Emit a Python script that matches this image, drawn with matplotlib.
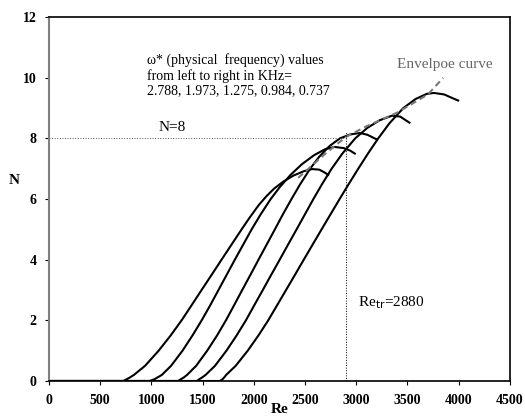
import matplotlib.pyplot as plt

# N-factor curves (Re, N)
re1 = [0, 726, 760, 792, 829, 938, 1071, 1188, 1295, 1393, 1490, 1588, 1685, 1783, 1881,
       1962, 2048, 2125, 2200, 2290, 2390, 2490, 2570, 2640, 2690, 2727]
n1 = [0, 0, 0.06, 0.12, 0.2, 0.5, 1.0, 1.5, 2.0, 2.5, 3.0, 3.5, 4.0, 4.5, 5.0,
      5.4, 5.8, 6.1, 6.35, 6.58, 6.78, 6.92, 6.99, 6.97, 6.88, 6.8]

re2 = [0, 982, 1031, 1061, 1102, 1192, 1304, 1401, 1491, 1575, 1655, 1735, 1815, 1897, 1979,
       2068, 2165, 2255, 2360, 2470, 2590, 2700, 2790, 2880, 2940, 2987]
n2 = [0, 0, 0.06, 0.12, 0.2, 0.5, 1.0, 1.5, 2.0, 2.5, 3.0, 3.5, 4.0, 4.5, 5.0,
      5.5, 6.0, 6.4, 6.8, 7.15, 7.45, 7.65, 7.72, 7.68, 7.6, 7.5]

re3 = [0, 1262, 1288, 1318, 1348, 1437, 1545, 1641, 1728, 1808, 1887, 1967, 2046, 2126, 2206,
       2285, 2368, 2455, 2550, 2640, 2740, 2840, 2940, 3036, 3110, 3199]
n3 = [0, 0, 0.06, 0.12, 0.2, 0.5, 1.0, 1.5, 2.0, 2.5, 3.0, 3.5, 4.0, 4.5, 5.0,
      5.5, 6.0, 6.5, 7.0, 7.4, 7.75, 8.0, 8.13, 8.18, 8.12, 7.97]

re4 = [0, 1445, 1468, 1497, 1529, 1621, 1733, 1832, 1923, 2005, 2088, 2170, 2253, 2335, 2418,
       2500, 2582, 2668, 2760, 2865, 2990, 3110, 3230, 3350, 3430, 3520]
n4 = [0, 0, 0.06, 0.12, 0.2, 0.5, 1.0, 1.5, 2.0, 2.5, 3.0, 3.5, 4.0, 4.5, 5.0,
      5.5, 6.0, 6.5, 7.0, 7.5, 8.0, 8.35, 8.6, 8.75, 8.72, 8.52]

re5 = [0, 1670, 1695, 1712, 1730, 1823, 1941, 2045, 2141, 2228, 2315, 2402, 2488, 2575, 2662,
       2750, 2838, 2928, 3020, 3115, 3215, 3325, 3460, 3580, 3690, 3760, 3860, 3940, 3996]
n5 = [0, 0, 0.06, 0.12, 0.2, 0.5, 1.0, 1.5, 2.0, 2.5, 3.0, 3.5, 4.0, 4.5, 5.0,
      5.5, 6.0, 6.5, 7.0, 7.5, 8.0, 8.5, 9.0, 9.3, 9.47, 9.5, 9.45, 9.33, 9.25]

# envelope curve
re_env = [2434, 2700, 2900, 3100, 3400, 3700, 3850]
n_env = [6.7, 7.5, 8.05, 8.4, 8.85, 9.45, 10.0]

re_tr = 2880

plt.rcParams['font.family'] = ['Liberation Serif', 'DejaVu Serif']

fig = plt.figure(figsize=(5.25, 4.18), dpi=100)
ax = fig.add_axes([0.0933, 0.0885, 0.8777, 0.8705])

for re, n in [(re1, n1), (re2, n2), (re3, n3), (re4, n4), (re5, n5)]:
    ax.plot(re, n, color='black', lw=1.5)

ax.plot(re_env, n_env, color='#777777', lw=1.5, ls=(0, (3, 2)))

# N=8 and Re_tr guide lines (drawn where they sit in the picture)
ax.plot([0, 2910], [8, 8], color='#555555', lw=0.7, ls=':')
ax.plot([2905, 2905], [0, 8.2], color='black', lw=0.7, ls=':')

ax.text(953, 10.8, u'\u03c9* (physical  frequency) values\nfrom left to right in KHz=\n2.788, 1.973, 1.275, 0.984, 0.737',
        fontsize=10, va='top', linespacing=1.15)
ax.text(3394, 10.43, 'Envelpoe curve', fontsize=11, color='#666666', va='center')
ax.text(1067, 8.36, 'N=8', fontsize=11, va='center')
ax.text(3020, 2.6, 'Re$_{\\rm tr}$=%d' % re_tr, fontsize=11, va='center')

ax.set_xlim(0, 4500)
ax.set_ylim(0, 12)
ax.set_xticks(range(0, 4501, 500))
ax.set_yticks(range(0, 13, 2))
ax.tick_params(direction='out', length=3, labelsize=10, pad=6)
for lab in ax.get_xticklabels() + ax.get_yticklabels():
    lab.set_fontweight('bold')

ax.set_xlabel('Re', fontsize=11, fontweight='bold', va='bottom')
ax.xaxis.set_label_coords(0.5, -0.097)
ax.set_ylabel('N', fontsize=11, fontweight='bold', rotation=0, va='center')
ax.yaxis.set_label_coords(-0.075, 0.55)

ax.spines['left'].set_color('#808080')
ax.spines['left'].set_linewidth(1.5)
for s in ['top', 'right', 'bottom']:
    ax.spines[s].set_linewidth(1.2)

fig.savefig('out.png', dpi=100)
